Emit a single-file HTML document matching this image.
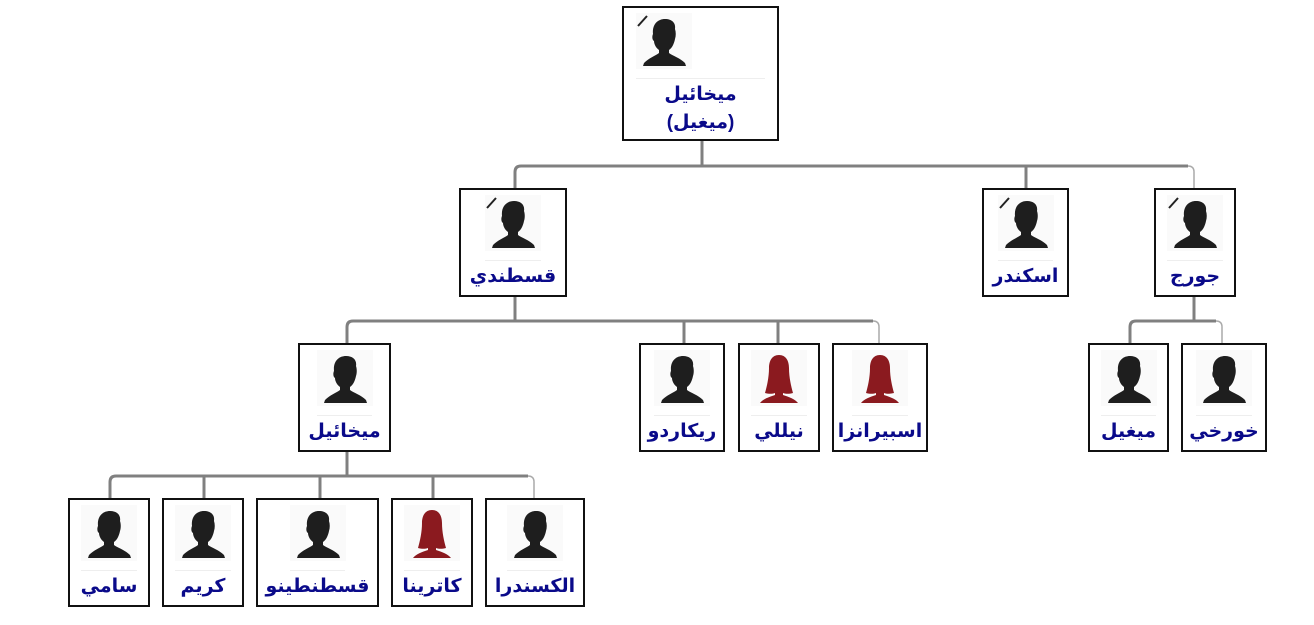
<!DOCTYPE html>
<html><head><meta charset="utf-8"><style>
html,body{margin:0;padding:0;background:#fff;width:1314px;height:625px;overflow:hidden;position:relative}
.n{position:absolute;box-sizing:border-box;border:2px solid #111;background:#fff}
.im{position:absolute;width:56px;height:56px;background:#fafafa}
.sep{position:absolute;height:1px;background:#eee}
.t{position:absolute;left:0;right:0;text-align:center;font-family:"Liberation Sans","DejaVu Sans",sans-serif;font-weight:bold;font-size:19px;color:#0a0a8a;line-height:28px;direction:rtl;white-space:nowrap}
svg.l{position:absolute;left:0;top:0}
</style></head><body>
<svg class="l" width="1314" height="625">
<g fill="none" stroke="#808080" stroke-width="3">
<path d="M702 141V166"/>
<path d="M515 188V172Q515 166 521 166H1188"/>
<path d="M1026 166V188"/>
<path d="M515 297V321"/>
<path d="M347 343V327Q347 321 353 321H873"/>
<path d="M684 321V343"/><path d="M778 321V343"/>
<path d="M1194 297V321"/>
<path d="M1130 343V327Q1130 321 1136 321H1216"/>
<path d="M347 452V476"/>
<path d="M110 498V482Q110 476 116 476H528"/>
<path d="M204 476V498"/><path d="M320 476V498"/><path d="M433 476V498"/>
</g>
<g fill="none" stroke="#aaa" stroke-width="1.5">
<path d="M1188 166Q1194 166 1194 172V188"/>
<path d="M873 321Q879 321 879 327V343"/>
<path d="M1216 321Q1222 321 1222 327V343"/>
<path d="M528 476Q534 476 534 482V498"/>
</g>
</svg>
<svg width="0" height="0" style="position:absolute">
<defs>
<symbol id="m" viewBox="0 0 56 56"><path fill="#1e1e1e" d="M17 21C16 11 22 6 29 6C36 6 40 10 39 16C40 19 40 23 39 26C38 31 36 35 33 37L33 40C37 43 44 45 49 50L50 53H7L8 50C13 45 19 43 23 40L23 37C20 35 18 31 18 28C16 27 16 23 17 21Z"/></symbol>
<symbol id="f" viewBox="0 0 56 56"><path fill="#8b1a1f" d="M28 5C21 5 18 11 18 18C18 27 16 36 14 43C18 44 21 44 24 43L24 45C18 47 12 49 9 53H47C44 49 38 47 32 45L32 43C35 44 38 44 42 43C40 36 38 27 38 18C38 11 35 5 28 5Z"/></symbol>
<symbol id="d" viewBox="0 0 56 56"><path stroke="#222" stroke-width="2" d="M2 13L11 3"/></symbol>
</defs></svg>

<div id="c"></div>
<script>
var N=[
[622,6,157,135,14,"ميخائيل<br>(ميغيل)","m",1,1],
[459,188,108,109,0,"قسطندي","m",1],
[982,188,87,109,0,"اسكندر","m",1],
[1154,188,82,109,0,"جورج","m",1],
[298,343,93,109,0,"ميخائيل","m"],
[639,343,86,109,0,"ريكاردو","m"],
[738,343,82,109,0,"نيللي","f"],
[832,343,96,109,0,"اسبيرانزا","f"],
[1088,343,81,109,0,"ميغيل","m"],
[1181,343,86,109,0,"خورخي","m"],
[68,498,82,109,0,"سامي","m"],
[162,498,82,109,0,"كريم","m"],
[256,498,123,109,0,"قسطنطينو","m"],
[391,498,82,109,0,"كاترينا","f"],
[485,498,100,109,0,"الكسندرا","m"]];
var h="";
N.forEach(function(n){
var x=n[0],y=n[1],w=n[2],H=n[3];
var ix=n[4]?n[4]-2:Math.round((w-4-56)/2);
var s='<div class="n" style="left:'+x+'px;top:'+y+'px;width:'+w+'px;height:'+H+'px">';
s+='<div class="im" style="left:'+ix+'px;top:5px"><svg width="56" height="56"><use href="#'+n[6]+'"/>'+(n[7]?'<use href="#d"/>':'')+'</svg></div>';
s+='<div class="sep" style="left:'+ix+'px;right:'+ix+'px;top:70px"></div>';
s+='<div class="t" style="top:73px">'+n[5]+'</div>';
s+='</div>';h+=s;});
document.getElementById('c').innerHTML=h;
</script>
</body></html>
